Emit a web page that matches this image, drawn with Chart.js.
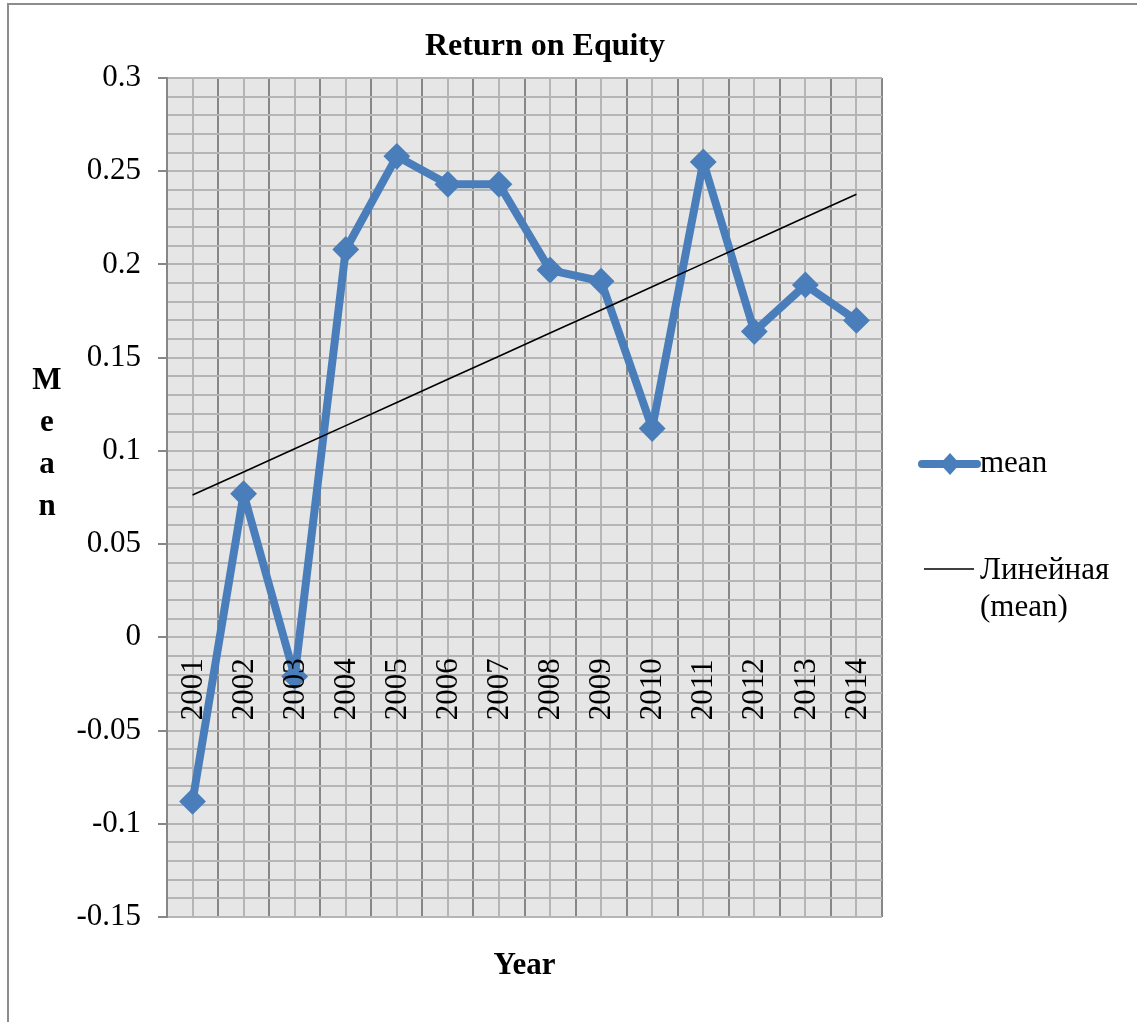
<!DOCTYPE html>
<html lang="en">
<head>
  <meta charset="UTF-8" />
  <title>Return on Equity</title>
  <script src="https://cdn.jsdelivr.net/npm/chart.js"></script>
  <style>
    body { margin: 0; background: #fff; }
    canvas { display: block; }
  </style>
</head>
<body>
  <canvas id="roeChart" width="1137" height="1022"></canvas>
  <script>
    const years = ['2001', '2002', '2003', '2004', '2005', '2006', '2007', '2008', '2009', '2010', '2011', '2012', '2013', '2014'];
    const meanValues = [-0.088, 0.077, -0.021, 0.208, 0.258, 0.243, 0.243, 0.197, 0.191, 0.112, 0.255, 0.164, 0.189, 0.170];
    const yMin = -0.15;
    const yMax = 0.3;
    const yStep = 0.05;
    const yMinorStep = 0.01;

    const FONT = '"Liberation Serif", "Times New Roman", serif';
    const MAJOR = '#878787';
    const MINOR = '#b5b5b5';
    const BLUE = '#4a7ebb';

    // least squares trend over the category index (Excel "linear" trendline)
    function linearTrend(vals) {
      const n = vals.length;
      let sx = 0, sy = 0, sxy = 0, sxx = 0;
      vals.forEach((v, i) => { const x = i + 1; sx += x; sy += v; sxy += x * v; sxx += x * x; });
      const slope = (n * sxy - sx * sy) / (n * sxx - sx * sx);
      const icpt = (sy - slope * sx) / n;
      return vals.map((v, i) => icpt + slope * (i + 1));
    }
    const trendValues = linearTrend(meanValues);

    const decor = {
      id: 'decor',
      beforeDraw(chart) {
        const { ctx, chartArea: a } = chart;
        ctx.save();
        ctx.fillStyle = '#fff';
        ctx.fillRect(0, 0, chart.width, chart.height);
        ctx.fillStyle = '#e6e6e6';
        ctx.fillRect(a.left, a.top, a.right - a.left, a.bottom - a.top);
        // outer chart frame
        ctx.strokeStyle = '#8c8c8c';
        ctx.lineWidth = 2;
        ctx.beginPath();
        ctx.moveTo(8, chart.height);
        ctx.lineTo(8, 4);
        ctx.lineTo(chart.width, 4);
        ctx.stroke();
        ctx.restore();
      },
      afterDatasetsDraw(chart) {
        const { ctx } = chart;
        const xs = chart.scales.x, ys = chart.scales.y;
        const zeroY = ys.getPixelForValue(0);
        ctx.save();
        ctx.fillStyle = '#000';

        // year labels, rotated, hanging under the zero line
        ctx.font = '31px ' + FONT;
        ctx.textAlign = 'left';
        ctx.textBaseline = 'middle';
        years.forEach((yr, i) => {
          ctx.save();
          ctx.translate(xs.getPixelForValue(i) + 1, zeroY + 83);
          ctx.rotate(-Math.PI / 2);
          ctx.fillText(yr, 0, 0);
          ctx.restore();
        });

        // title and axis titles
        ctx.font = 'bold 32px ' + FONT;
        ctx.textAlign = 'center';
        ctx.fillText('Return on Equity', 545, 47);
        ctx.font = 'bold 31px ' + FONT;
        ctx.fillText('Year', (xs.left + xs.right) / 2, 966);
        ['M', 'e', 'a', 'n'].forEach((ch, i) => ctx.fillText(ch, 47, 381 + i * 42));

        // legend
        ctx.strokeStyle = BLUE;
        ctx.lineWidth = 8;
        ctx.lineCap = 'round';
        ctx.beginPath();
        ctx.moveTo(922, 464);
        ctx.lineTo(977, 464);
        ctx.stroke();
        ctx.fillStyle = BLUE;
        ctx.beginPath();
        ctx.moveTo(950, 453); ctx.lineTo(960, 464); ctx.lineTo(950, 475); ctx.lineTo(940, 464);
        ctx.closePath();
        ctx.fill();
        ctx.strokeStyle = '#000';
        ctx.lineWidth = 1.5;
        ctx.lineCap = 'butt';
        ctx.beginPath();
        ctx.moveTo(924, 569);
        ctx.lineTo(974, 569);
        ctx.stroke();
        ctx.fillStyle = '#000';
        ctx.font = '31px ' + FONT;
        ctx.textAlign = 'left';
        ctx.fillText('mean', 980, 464);
        ctx.fillText('Линейная', 980, 571);
        ctx.fillText('(mean)', 980, 608);
        ctx.restore();
      }
    };

    new Chart(document.getElementById('roeChart').getContext('2d'), {
      type: 'line',
      data: {
        labels: years,
        datasets: [
          {
            label: 'Линейная (mean)',
            data: trendValues,
            borderColor: '#000',
            borderWidth: 1.6,
            pointRadius: 0,
            order: 0
          },
          {
            label: 'mean',
            data: meanValues,
            borderColor: BLUE,
            backgroundColor: BLUE,
            borderWidth: 8,
            borderJoinStyle: 'round',
            pointStyle: 'rectRot',
            pointRadius: 12,
            pointBorderWidth: 2,
            pointBackgroundColor: BLUE,
            pointBorderColor: BLUE,
            tension: 0,
            order: 1
          }
        ]
      },
      options: {
        responsive: false,
        animation: false,
        layout: { padding: { left: 0, top: 78, right: 255, bottom: 0 } },
        plugins: { legend: { display: false }, title: { display: false }, tooltip: { enabled: false } },
        scales: {
          x: {
            type: 'category',
            position: 'bottom',
            offset: true,
            grid: { offset: true, color: MAJOR, lineWidth: 2, drawTicks: false },
            border: { display: false },
            ticks: { display: false },
            afterFit: s => { s.height = 0; }
          },
          xMinor: {
            type: 'category',
            labels: years,
            position: 'bottom',
            offset: true,
            z: -1,
            grid: { offset: false, color: MINOR, lineWidth: 2, drawTicks: false },
            border: { display: false },
            ticks: { display: false },
            afterFit: s => { s.height = 105; }
          },
          y: {
            position: 'left',
            min: yMin,
            max: yMax,
            grid: { color: MAJOR, lineWidth: 2, tickLength: 9 },
            border: { display: true, color: MAJOR, width: 2 },
            ticks: {
              stepSize: yStep,
              padding: 17,
              color: '#000',
              font: { family: FONT, size: 31 },
              callback: v => String(+v.toFixed(2))
            },
            afterFit: s => { s.width = 167; }
          },
          yMinor: {
            position: 'left',
            min: yMin,
            max: yMax,
            z: -1,
            grid: { color: MINOR, lineWidth: 2, drawTicks: false },
            border: { display: false },
            ticks: { display: false, stepSize: yMinorStep },
            afterFit: s => { s.width = 0; }
          }
        }
      },
      plugins: [decor]
    });
  </script>
</body>
</html>
